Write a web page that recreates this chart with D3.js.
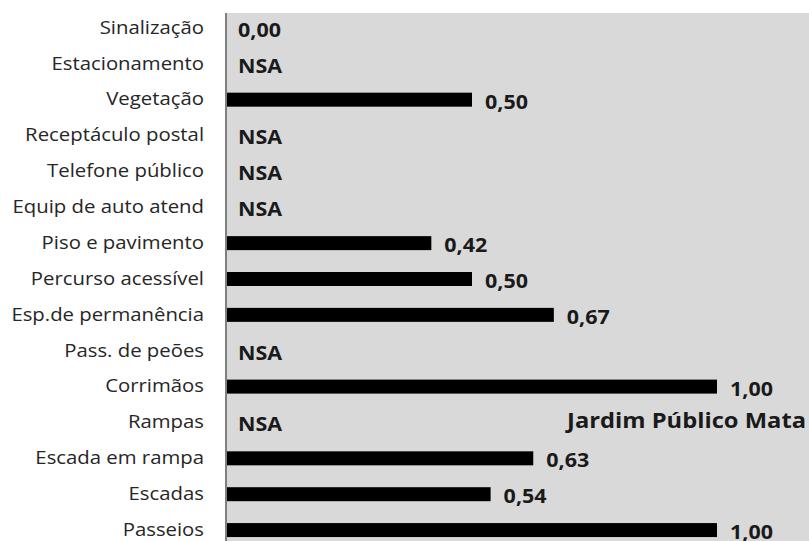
<!DOCTYPE html>
<html><head><meta charset="utf-8">
<script src="https://cdn.jsdelivr.net/npm/d3@7"></script>
<style>body{margin:0;background:#fff}svg{display:block}</style>
</head><body>
<svg id="c" width="809" height="541"></svg>
<script>
const categories = ["Sinalização","Estacionamento","Vegetação","Receptáculo postal","Telefone público","Equip de auto atend","Piso e pavimento","Percurso acessível","Esp.de permanência","Pass. de peões","Corrimãos","Rampas","Escada em rampa","Escadas","Passeios"];
const values = [0.00, null, 0.50, null, null, null, 0.417, 0.50, 0.667, null, 1.00, null, 0.625, 0.538, 1.00];
const valueLabels = ["0,00","NSA","0,50","NSA","NSA","NSA","0,42","0,50","0,67","NSA","1,00","NSA","0,63","0,54","1,00"];
const chartTitle = "Jardim Público Mata";

const svg = d3.select("#c");
const font = "'Open Sans', sans-serif";
const sx = 1.13; // horizontal stretch of the original picture's text
const x = d3.scaleLinear().domain([0, 1]).range([227, 717]);
const y = d3.scaleBand().domain(categories).range([10, 548]).paddingInner(0.61).paddingOuter(0.305);

svg.append("rect").attr("x", 225).attr("y", 13).attr("width", 584).attr("height", 528).attr("fill", "#d9d9d9");

const data = categories.map((c, i) => ({c, v: values[i], l: valueLabels[i]}));

svg.selectAll("rect.bar").data(data.filter(d => d.v !== null)).join("rect")
  .attr("class", "bar")
  .attr("x", x(0)).attr("y", d => y(d.c))
  .attr("width", d => x(d.v) - x(0)).attr("height", y.bandwidth())
  .attr("fill", "#000");

svg.selectAll("text.val").data(data).join("text")
  .attr("class", "val")
  .attr("transform", d => {
    const px = (d.v === null || d.v === 0) ? x(0) + 11 : x(d.v) + 13;
    return `translate(${px},${y(d.c) + y.bandwidth() / 2}) scale(${sx},1)`;
  })
  .attr("dy", "0.47em")
  .attr("font-family", font).attr("font-weight", "bold").attr("font-size", 19)
  .attr("fill", "#1a1a1a")
  .text(d => d.l);

const axis = d3.axisLeft(y).tickSize(0).tickPadding(22 / sx);
const g = svg.append("g").attr("transform", `translate(226,0) scale(${sx},1)`).call(axis);
g.select(".domain").attr("stroke", "#7f7f7f").attr("stroke-width", 2 / sx).attr("d", "M0,13V541");
g.selectAll("text").attr("font-family", font).attr("font-size", 18).attr("fill", "#262626");

svg.append("text")
  .attr("transform", `translate(806,${y("Rampas") + y.bandwidth() / 2 + 5.5}) scale(${sx},1)`)
  .attr("text-anchor", "end")
  .attr("font-family", font).attr("font-weight", "bold").attr("font-size", 21)
  .attr("fill", "#1a1a1a").text(chartTitle);
</script>
</body></html>
